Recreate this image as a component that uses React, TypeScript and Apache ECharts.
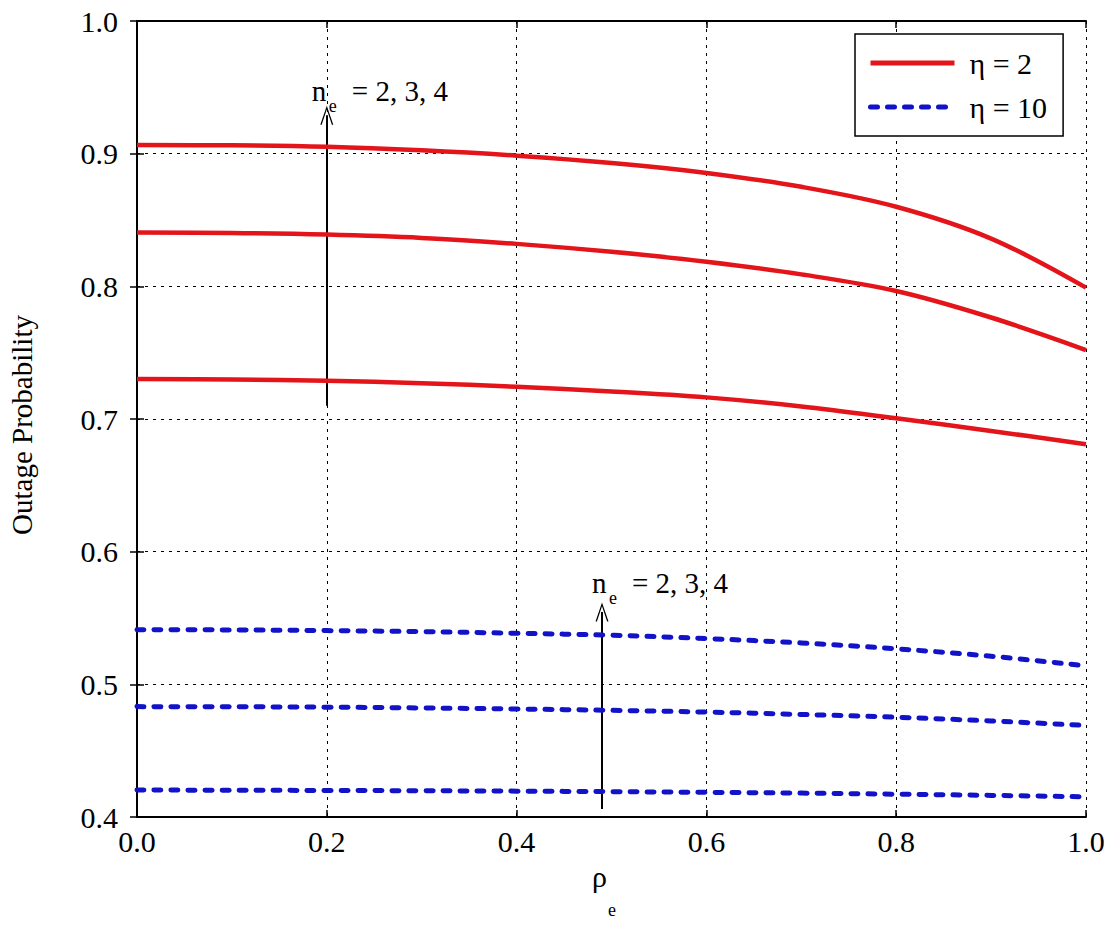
import React, { useEffect, useRef } from 'react';
import * as echarts from 'echarts';

const rho = [0, 0.1, 0.2, 0.3, 0.4, 0.5, 0.6, 0.7, 0.8, 0.9, 1.0];
const eta2_ne4 = [0.9065, 0.9063, 0.9052, 0.9025, 0.8985, 0.893, 0.8855, 0.875, 0.86, 0.836, 0.799];
const eta2_ne3 = [0.8405, 0.8402, 0.839, 0.8365, 0.832, 0.826, 0.8185, 0.809, 0.7965, 0.7765, 0.752];
const eta2_ne2 = [0.7302, 0.7298, 0.7288, 0.727, 0.7243, 0.7208, 0.7163, 0.7095, 0.7005, 0.691, 0.681];
const eta10_ne4 = [0.5412, 0.541, 0.5405, 0.5397, 0.5385, 0.537, 0.5345, 0.5312, 0.5268, 0.5212, 0.514];
const eta10_ne3 = [0.4832, 0.4831, 0.4828, 0.4822, 0.4814, 0.4804, 0.4791, 0.4773, 0.4752, 0.4724, 0.469];
const eta10_ne2 = [0.4203, 0.4202, 0.42, 0.4198, 0.4195, 0.4191, 0.4186, 0.418, 0.4172, 0.4163, 0.4152];

const yMin = 0.4;
const yMax = 1.0;

const arrow1 = { x: 0.2, from: 0.71, to: 0.929 };
const arrow2 = { x: 0.49, from: 0.406, to: 0.5545 };

const labelEta2 = 'η = 2';
const labelEta10 = 'η = 10';
const neText = '= 2, 3, 4';

const FONT = 'Liberation Serif';
const RED = '#e3151a';
const BLUE = '#1212c8';

export default function App() {
  const ref = useRef<HTMLDivElement>(null);
  useEffect(() => {
    document.body.style.margin = '0';
    const chart = echarts.init(ref.current as HTMLDivElement, null, { renderer: 'svg' });
    const pair = (ys: number[]) => rho.map((x, i) => [x, ys[i]]);
    const redSeries = (ys: number[]) => ({
      name: labelEta2,
      type: 'line',
      data: pair(ys),
      smooth: 0.35,
      showSymbol: false,
      symbol: 'none',
      lineStyle: { color: RED, width: 4.5, join: 'round' },
      itemStyle: { color: RED },
      z: 5,
    });
    const blueSeries = (ys: number[]) => ({
      name: labelEta10,
      type: 'line',
      data: pair(ys),
      smooth: 0.35,
      showSymbol: false,
      symbol: 'none',
      lineStyle: { color: BLUE, width: 5, type: [7, 10], cap: 'round', join: 'round' },
      itemStyle: { color: BLUE },
      z: 5,
    });
    const arrowHead = 'path://M0,18 L6.5,0 L13,18 L11.6,18 L6.5,3.6 L1.4,18 Z';
    const tick = { inside: true, length: 7, lineStyle: { color: '#000', width: 1.5 } };
    const option: any = {
      animation: false,
      backgroundColor: '#fff',
      grid: { left: 137, top: 21, right: 22, bottom: 115, containLabel: false },
      legend: {
        data: [labelEta2, labelEta10],
        orient: 'vertical',
        left: 855,
        top: 34,
        padding: [14, 16, 14, 13],
        itemWidth: 84,
        itemHeight: 14,
        itemGap: 14,
        backgroundColor: '#fff',
        borderColor: '#000',
        borderWidth: 1.5,
        itemStyle: { opacity: 0, borderWidth: 0 },
        lineStyle: { width: 5 },
        textStyle: { fontFamily: FONT, fontSize: 30, color: '#000', lineHeight: 30, padding: [0, 0, 0, 10] },
      },
      xAxis: [
        {
          type: 'value', min: 0, max: 1, interval: 0.2, position: 'bottom',
          axisLine: { show: true, lineStyle: { color: '#000', width: 2 } },
          axisTick: tick,
          axisLabel: { fontFamily: FONT, fontSize: 30, color: '#000', margin: 9, formatter: (v: number) => v.toFixed(1) },
          splitLine: { show: true, lineStyle: { color: '#000', width: 1, type: [3, 5] } },
        },
        {
          type: 'value', min: 0, max: 1, interval: 0.2, position: 'top',
          axisLine: { show: true, lineStyle: { color: '#000', width: 2 } },
          axisTick: tick, axisLabel: { show: false }, splitLine: { show: false },
        },
      ],
      yAxis: [
        {
          type: 'value', min: yMin, max: yMax, interval: 0.1, position: 'left',
          axisLine: { show: true, lineStyle: { color: '#000', width: 2 } },
          axisTick: tick,
          axisLabel: { fontFamily: FONT, fontSize: 30, color: '#000', margin: 19, formatter: (v: number) => v.toFixed(1) },
          splitLine: { show: true, lineStyle: { color: '#000', width: 1, type: [3, 5] } },
        },
        {
          type: 'value', min: yMin, max: yMax, interval: 0.1, position: 'right',
          axisLine: { show: true, lineStyle: { color: '#000', width: 2 } },
          axisTick: tick, axisLabel: { show: false }, splitLine: { show: false },
        },
      ],
      series: [
        redSeries(eta2_ne4),
        redSeries(eta2_ne3),
        redSeries(eta2_ne2),
        blueSeries(eta10_ne4),
        blueSeries(eta10_ne3),
        blueSeries(eta10_ne2),
        {
          name: 'arrows',
          type: 'line',
          data: [],
          silent: true,
          markLine: {
            silent: true,
            symbol: ['none', arrowHead],
            symbolSize: [13, 19],
            label: { show: false },
            lineStyle: { color: '#000', width: 2, type: 'solid' },
            data: [
              [{ coord: [arrow1.x, arrow1.from] }, { coord: [arrow1.x, arrow1.to] }],
              [{ coord: [arrow2.x, arrow2.from] }, { coord: [arrow2.x, arrow2.to] }],
            ],
          },
          z: 6,
        },
      ],
    };
    chart.setOption(option);

    const t1 = chart.convertToPixel({ xAxisIndex: 0, yAxisIndex: 0 }, [arrow1.x, arrow1.to]) as number[];
    const t2 = chart.convertToPixel({ xAxisIndex: 0, yAxisIndex: 0 }, [arrow2.x, arrow2.to]) as number[];
    const txt = (text: string, x: number, y: number, size: number, extra: any = {}) => ({
      type: 'text', x, y, ...extra,
      style: { text, fontFamily: FONT, fontSize: size, fill: '#000', verticalAlign: 'middle', align: extra.align || 'left' },
    });
    // base = alphabetic baseline in pixels
    const neLabel = (tx: number, dx: number, base: number) => [
      txt('n', tx + dx, base - 9.5, 29),
      txt('e', tx + dx + 17, base + 6, 18),
      txt(neText, tx + dx + 40, base - 9.5, 29),
    ];
    chart.setOption({
      graphic: [
        ...neLabel(t1[0], -15, t1[1] - 15),
        ...neLabel(t2[0], -10, t2[1] - 20),
        txt('ρ', 592, 876, 30),
        txt('e', 608, 910, 18),
        txt('Outage Probability', 22, 425, 29, { rotation: Math.PI / 2, align: 'center' }),
      ],
    });
    return () => chart.dispose();
  }, []);
  return <div ref={ref} style={{ position: 'absolute', left: 0, top: 0, width: 1108, height: 932 }} />;
}
